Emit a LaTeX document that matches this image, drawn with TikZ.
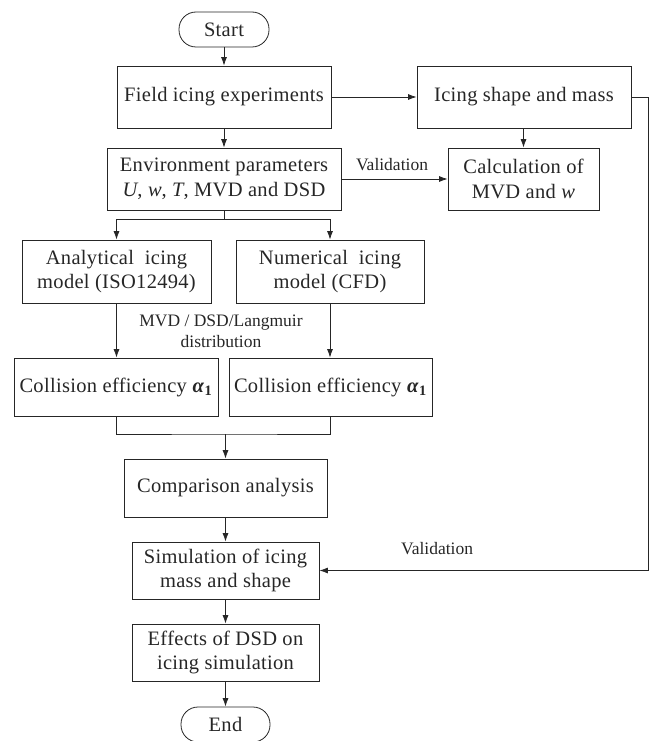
\documentclass[tikz,border=0pt]{standalone}
\usepackage{fontspec}
\setmainfont{Liberation Serif}
\newfontfamily\boxfont[LetterSpace=1.5]{Liberation Serif}
\usetikzlibrary{arrows.meta}
\definecolor{linecol}{gray}{0.15}
\begin{document}
\begin{tikzpicture}[x=1pt,y=-1pt,
  box/.style={draw=linecol, line width=0.8pt, align=center, inner sep=0pt, text=linecol,
    font=\boxfont\fontsize{20.5}{24.5}\selectfont},
  term/.style={box, rounded corners=17pt},
  lbl/.style={font=\fontsize{17.5}{21}\selectfont, inner sep=0pt, align=center, text=linecol},
  ln/.style={line width=0.8pt, draw=linecol},
  arr/.style={ln, -{Latex[length=8.5pt,width=6pt]}}]
\useasboundingbox (0,0) rectangle (652,741);
\node[term, minimum width=90pt, minimum height=35pt] (start) at (224,29.5) {Start};
\node[box, minimum width=214pt, minimum height=62pt] (field) at (224,97) {Field icing experiments};
\node[box, minimum width=214pt, minimum height=62pt] (icing) at (524,97) {Icing shape and mass};
\node[box, minimum width=234pt, minimum height=62pt] (env) at (224,179) {Environment parameters\\\textit{U}, \textit{w}, \textit{T}, MVD and DSD};
\node[box, minimum width=151pt, minimum height=62pt] (calc) at (523.5,179) {Calculation of\\MVD and \textit{w}};
\node[box, minimum width=189pt, minimum height=63pt] (anal) at (116.5,271.5) {Analytical\ \ icing\\model (ISO12494)};
\node[box, minimum width=188pt, minimum height=63pt] (num) at (330,271.5) {Numerical\ \ icing\\model (CFD)};
\node[box, minimum width=204pt, minimum height=58pt] (coll1) at (116,387) {Collision efficiency \textbf{\textit{α}}\textsubscript{\textbf{1}}};
\node[box, minimum width=203pt, minimum height=58pt] (coll2) at (330.5,387) {Collision efficiency \textbf{\textit{α}}\textsubscript{\textbf{1}}};
\node[box, minimum width=203pt, minimum height=58pt] (comp) at (225.5,488) {Comparison analysis};
\node[box, minimum width=187pt, minimum height=57pt] (sim) at (225.5,570.5) {Simulation of icing\\mass and shape};
\node[box, minimum width=187pt, minimum height=57pt] (eff) at (225.5,652.5) {Effects of DSD on\\icing simulation};
\node[term, minimum width=89pt, minimum height=35pt] (end) at (225.5,724.5) {End};
\node[lbl] (val1) at (392,165) {Validation};
\node[lbl] (val2) at (437,549) {Validation};
\node[lbl] (dist) at (221,331) {MVD / DSD/Langmuir\\distribution};
% connectors
\draw[arr] (start) -- (field);
\draw[arr] (field) -- (icing);
\draw[arr] (field) -- (env);
\draw[arr] (icing.south -| calc.north) -- (calc.north);
\draw[arr] (env) -- (calc);
\coordinate (br) at (224,219);
\draw[ln] (env.south) -- (br);
\draw[arr] (br) -| (anal.north);
\draw[arr] (br) -| (num.north);
\draw[arr] (anal) -- (anal.south |- coll1.north);
\draw[arr] (num) -- (num.south |- coll2.north);
\coordinate (jn) at (225.5,434);
\draw[ln] (coll1.south) |- (jn) -| (coll2.south);
\draw[arr] (jn) -- (comp.north);
\draw[arr] (comp) -- (sim);
\draw[arr] (sim) -- (eff);
\draw[arr] (eff) -- (end);
\coordinate (rc) at (648,97);
\draw[arr] (icing.east) -- (rc) |- (sim.east);
\end{tikzpicture}
\end{document}
